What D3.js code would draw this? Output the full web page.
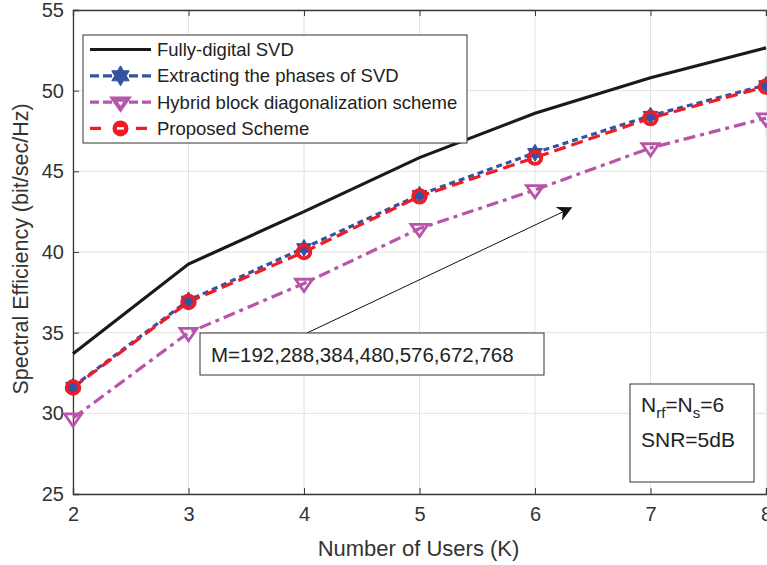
<!DOCTYPE html>
<html><head><meta charset="utf-8">
<script src="https://cdn.jsdelivr.net/npm/d3@7"></script>
<style>body{margin:0;background:#fff}svg{display:block}text{font-family:"Liberation Sans",Arial,sans-serif}</style>
</head><body><svg id="c" width="767" height="565"></svg>
<script>
const users = [2,3,4,5,6,7,8];
const fullyDigital = [33.7,39.25,42.5,45.85,48.6,50.8,52.65];
const extractPhases = [31.65,37.0,40.25,43.55,46.15,48.45,50.35];
const hybridBD = [29.7,35.0,38.05,41.45,43.85,46.45,48.3];
const proposed = [31.6,36.9,40.0,43.45,45.85,48.3,50.25];
const xTicks = [2,3,4,5,6,7,8];
const yTicks = [25,30,35,40,45,50,55];
const seriesNames = ["Fully-digital SVD","Extracting the phases of SVD","Hybrid block diagonalization scheme","Proposed Scheme"];

const svg = d3.select("#c");
const L=73, R=766, T=10, B=494;
const x = d3.scaleLinear().domain([2,8]).range([L,R]);
const y = d3.scaleLinear().domain([25,55]).range([B,T]);
const axisColor="#3a3a3a", textColor="#333";

// grid
const g = svg.append("g");
g.selectAll(".gx").data(xTicks).enter().append("line")
  .attr("x1",d=>x(d)).attr("x2",d=>x(d)).attr("y1",T).attr("y2",B)
  .attr("stroke","#e2e2e2").attr("stroke-width",1);
g.selectAll(".gy").data(yTicks).enter().append("line")
  .attr("x1",L).attr("x2",R).attr("y1",d=>y(d)).attr("y2",d=>y(d))
  .attr("stroke","#e2e2e2").attr("stroke-width",1);

// axes
const xAxis = d3.axisBottom(x).tickValues(xTicks).tickSize(-6).tickPadding(13).tickFormat(d3.format("d"));
const yAxis = d3.axisLeft(y).tickValues(yTicks).tickSize(-6).tickPadding(9);
const gx = svg.append("g").attr("transform",`translate(0,${B})`).call(xAxis);
const gy = svg.append("g").attr("transform",`translate(${L},0)`).call(yAxis);
const gxt = svg.append("g").attr("transform",`translate(0,${T})`).call(d3.axisTop(x).tickValues(xTicks).tickSize(-6).tickFormat(""));
[gx,gy,gxt].forEach(a=>{
  a.select(".domain").attr("stroke",axisColor).attr("stroke-width",1.3);
  a.selectAll(".tick line").attr("stroke",axisColor);
  a.selectAll(".tick text").attr("fill",textColor).attr("font-size",20).attr("font-family","'Liberation Sans',Arial,sans-serif");
});

svg.append("text").attr("x",(L+R)/2-1).attr("y",556).attr("text-anchor","middle")
  .attr("font-size",22).attr("fill",textColor).text("Number of Users (K)");
svg.append("text").attr("transform",`translate(28,${(T+B)/2-3}) rotate(-90)`).attr("text-anchor","middle")
  .attr("font-size",21.5).attr("fill",textColor).text("Spectral Efficiency (bit/sec/Hz)");

const line = d3.line().x((d,i)=>x(users[i])).y(d=>y(d));
const styles = [
  {data:fullyDigital,color:"#1a1a1a",dash:null,w:3.2},
  {data:extractPhases,color:"#3553a3",dash:"6,4",w:3.2},
  {data:hybridBD,color:"#b855ab",dash:"12,5,4,5",w:3.2},
  {data:proposed,color:"#ee1c25",dash:"12,6",w:3.2}
];
const plot = svg.append("g");
styles.forEach(s=>{
  plot.append("path").datum(s.data).attr("d",line).attr("fill","none")
    .attr("stroke",s.color).attr("stroke-width",s.w).attr("stroke-dasharray",s.dash);
});
function starPath(r){
  const pts=[];
  for(let k=0;k<12;k++){const a=-Math.PI/2+k*Math.PI/6; const rr=k%2===0?r:r*0.58; pts.push([rr*Math.cos(a),rr*Math.sin(a)]);}
  return "M"+pts.map(p=>p[0].toFixed(2)+","+p[1].toFixed(2)).join("L")+"Z";
}
function triDown(cx,cy,s){const h=s*0.9;return `M${cx-s},${cy-h*0.55}L${cx+s},${cy-h*0.55}L${cx},${cy+h*1.05}Z`;}

function drawMarker(gg,type,cx,cy,leg){
  if(type===1){gg.append("path").attr("d",starPath(leg?10:8.5)).attr("transform",`translate(${cx},${cy})`).attr("fill","#3553a3").attr("stroke","#3553a3").attr("stroke-width",1);}
  if(type===2){
    if(leg){
      gg.append("path").attr("d",triDown(cx,cy,10)).attr("fill","#b855ab").attr("stroke","#b855ab").attr("stroke-width",1.5);
      gg.append("path").attr("d",triDown(cx,cy+1,2.8)).attr("fill","#fff");
    } else gg.append("path").attr("d",triDown(cx,cy,8.5)).attr("fill","none").attr("stroke","#b855ab").attr("stroke-width",2.8);
  }
  if(type===3){
    if(leg){
      gg.append("circle").attr("cx",cx).attr("cy",cy).attr("r",8).attr("fill","#ee1c25");
      gg.append("rect").attr("x",cx-3.5).attr("y",cy-1.2).attr("width",7).attr("height",2.4).attr("fill","#fff");
    } else gg.append("circle").attr("cx",cx).attr("cy",cy).attr("r",6.3).attr("fill","none").attr("stroke","#ee1c25").attr("stroke-width",3.8);
  }
}
[1,2,3].forEach(t=>{
  styles[t].data.forEach((v,i)=>drawMarker(plot,t,x(users[i]),y(v),false));
});

// legend
const lg = svg.append("g");
lg.append("rect").attr("x",83).attr("y",35).attr("width",384).attr("height",108).attr("fill","#fff").attr("stroke","#333").attr("stroke-width",1);
const legDash = [null,"9,4","9,4","11,12"];
seriesNames.forEach((n,i)=>{
  const ly = 49.5+i*26.3;
  const s = styles[i];
  lg.append("line").attr("x1",i===3?90:90).attr("x2",151).attr("y1",ly).attr("y2",ly).attr("stroke",s.color).attr("stroke-width",3.2).attr("stroke-dasharray",legDash[i]);
  if(i>0) drawMarker(lg,i,120.5,ly,true);
  lg.append("text").attr("x",157).attr("y",ly+6.5).attr("font-size",18.5).attr("fill","#222").text(n);
});

// annotation arrow
const ann = svg.append("g");
ann.append("defs").append("marker").attr("id","ah").attr("viewBox","0 0 10 10").attr("refX",9).attr("refY",5)
  .attr("markerWidth",15).attr("markerHeight",15).attr("markerUnits","userSpaceOnUse").attr("orient","auto")
  .append("path").attr("d","M0,0L10,5L0,10L3,5Z").attr("fill","#111");
ann.append("line").attr("x1",307).attr("y1",333).attr("x2",571).attr("y2",208)
  .attr("stroke","#111").attr("stroke-width",1).attr("marker-end","url(#ah)");
ann.append("rect").attr("x",200).attr("y",333).attr("width",344).attr("height",42).attr("fill","#fff").attr("stroke","#333");
ann.append("text").attr("x",211).attr("y",362).attr("font-size",20.5).attr("fill","#222").text("M=192,288,384,480,576,672,768");

// param box
const pb = svg.append("g");
pb.append("rect").attr("x",630).attr("y",384).attr("width",124).attr("height",98).attr("fill","#fff").attr("stroke","#333");
const t1 = pb.append("text").attr("x",641).attr("y",412).attr("font-size",21).attr("fill","#222");
t1.append("tspan").text("N");
t1.append("tspan").attr("font-size",15).attr("dy",6).text("rf");
t1.append("tspan").attr("dy",-6).text("=N");
t1.append("tspan").attr("font-size",15).attr("dy",6).text("s");
t1.append("tspan").attr("dy",-6).text("=6");
pb.append("text").attr("x",641).attr("y",447).attr("font-size",21).attr("fill","#222").text("SNR=5dB");
</script></body></html>
